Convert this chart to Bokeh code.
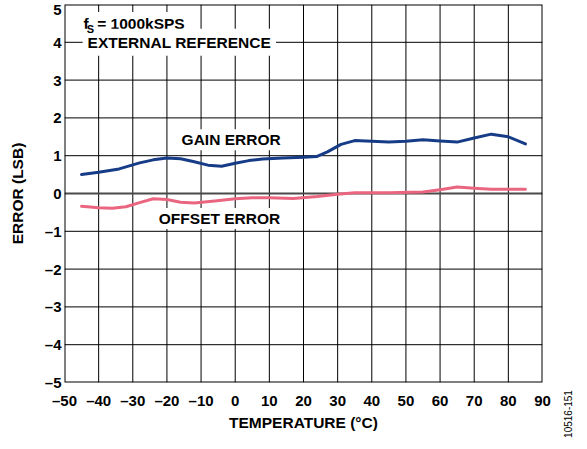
from bokeh.plotting import figure
from bokeh.layouts import row
from bokeh.models import Range1d, Label, Span, FixedTicker, BoxAnnotation, Div
from bokeh.embed import file_html
from bokeh.resources import INLINE

# ---- data ----
temp_gain = [-45, -40, -34, -28, -24, -20, -16, -12, -8, -4, 0, 4, 8, 14, 20, 24,
             27, 31, 35, 40, 45, 50, 55, 60, 65, 70, 75, 80, 85]
gain_err = [0.50, 0.56, 0.65, 0.81, 0.89, 0.94, 0.92, 0.84, 0.75, 0.72, 0.80, 0.87,
            0.91, 0.94, 0.96, 0.98, 1.10, 1.30, 1.40, 1.38, 1.36, 1.38, 1.42, 1.39,
            1.36, 1.47, 1.57, 1.50, 1.31]

temp_offset = [-45, -40, -36, -32, -28, -24, -20, -16, -12, -6, 0, 5, 10, 17, 24,
               30, 35, 45, 55, 60, 65, 70, 75, 85]
offset_err = [-0.34, -0.38, -0.39, -0.35, -0.24, -0.14, -0.16, -0.23, -0.25, -0.20,
              -0.14, -0.11, -0.11, -0.13, -0.08, -0.02, 0.02, 0.02, 0.04, 0.10, 0.17,
              0.14, 0.11, 0.11]

x_ticks = list(range(-50, 91, 10))
y_ticks = list(range(-5, 6))
x_tick_labels = {t: (("\u2013" + str(-t)) if t < 0 else str(t)) for t in x_ticks}
y_tick_labels = {t: (("\u2013" + str(-t)) if t < 0 else str(t)) for t in y_ticks}

FONT = "Liberation Sans"
GAIN_COLOR = "#173c87"
OFFSET_COLOR = "#ea6680"

p = figure(width=557, height=433, output_backend="svg", toolbar_location=None,
           x_range=Range1d(-50, 90), y_range=Range1d(-5, 5),
           min_border_left=64, min_border_right=15, min_border_top=4,
           min_border_bottom=49)
p.background_fill_color = "white"
p.border_fill_color = "white"
p.outline_line_color = None
p.grid.visible = False

# grid lines at every tick
for t in x_ticks[1:-1]:
    p.add_layout(Span(location=t, dimension="height", line_color="black",
                      line_width=1, level="underlay"))
for t in y_ticks[1:-1]:
    if t == 0:
        continue
    p.add_layout(Span(location=t, dimension="width", line_color="black",
                      line_width=1, level="underlay"))
p.add_layout(Span(location=0, dimension="width", line_color="#4a4a4a",
                  line_width=2, level="underlay"))
# frame
p.add_layout(BoxAnnotation(left=x_ticks[0], right=x_ticks[-1], bottom=y_ticks[0],
                           top=y_ticks[-1], fill_alpha=0, line_color="black",
                           line_width=2, line_alpha=1, level="underlay"))

# axes
p.xaxis.ticker = FixedTicker(ticks=x_ticks)
p.yaxis.ticker = FixedTicker(ticks=y_ticks)
p.xaxis.major_label_overrides = x_tick_labels
p.yaxis.major_label_overrides = y_tick_labels
for ax in (p.xaxis, p.yaxis):
    ax.axis_line_color = None
    ax.major_tick_line_color = None
    ax.minor_tick_line_color = None
    ax.major_tick_out = 0
    ax.major_tick_in = 0
    ax.minor_tick_out = 0
    ax.minor_tick_in = 0
    ax.major_label_text_font = FONT
    ax.major_label_text_font_style = "bold"
    ax.major_label_text_font_size = "15px"
    ax.major_label_text_color = "black"
    ax.axis_label_text_font = FONT
    ax.axis_label_text_font_style = "bold"
    ax.axis_label_text_font_size = "15.5px"
    ax.axis_label_text_color = "black"
p.xaxis.axis_label = "TEMPERATURE (\u00b0C)"
p.yaxis.axis_label = "ERROR (LSB)"
p.xaxis.major_label_standoff = 9
p.yaxis.major_label_standoff = 3
p.xaxis.axis_label_standoff = 2
p.yaxis.axis_label_standoff = 16

# curves
p.line(temp_gain, gain_err, line_color=GAIN_COLOR, line_width=3, line_join="round",
       line_cap="round")
p.line(temp_offset, offset_err, line_color=OFFSET_COLOR, line_width=3,
       line_join="round", line_cap="round")

def lab(fig, x, y, text, size="15.5px", align="left", bg=True, pad=3, angle=0.0,
        style="bold"):
    kw = dict(x=x, y=y, text=text, text_font=FONT, text_font_style=style,
              text_font_size=size, text_color="black", text_align=align,
              text_baseline="middle", angle=angle)
    if bg:
        kw.update(background_fill_color="white", background_fill_alpha=1.0,
                  padding=pad)
    l = Label(**kw)
    fig.add_layout(l)
    return l

# annotations
lab(p, -45.3, 4.5, "f", pad=3)
lab(p, -41.3, 4.5, "= 1000kSPS", pad=3)
lab(p, -44.7, 4.0, "EXTERNAL REFERENCE", pad=5)
lab(p, -1.2, 1.42, "GAIN ERROR", align="center", pad=2)
lab(p, -4.6, -0.66, "OFFSET ERROR", align="center", pad=2)
lab(p, -43.5, 4.36, "S", size="11px", bg=False)

# figure code, vertical, at the lower right
code = Div(
    text=('<div style="position:absolute; left:7px; top:409px; '
          'transform:translate(-50%,-50%) rotate(-90deg); white-space:nowrap; '
          'font-family:\'Liberation Sans\'; font-size:10px; color:black; '
          'line-height:10px;">10516-151</div>'),
    width=14, height=433, styles={"position": "relative", "overflow": "visible"})

layout = row(p, code, spacing=0)
open("out.html", "w").write(file_html(layout, INLINE))
